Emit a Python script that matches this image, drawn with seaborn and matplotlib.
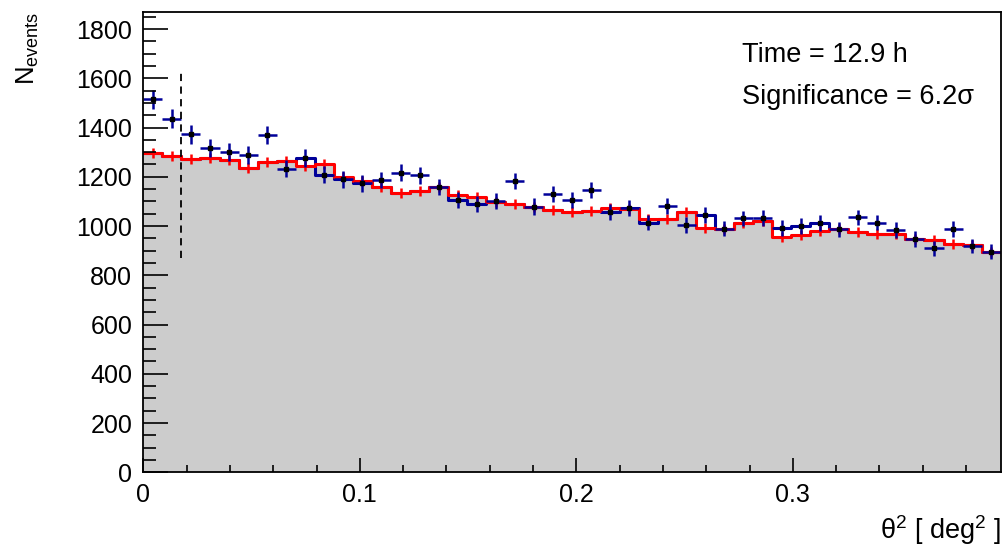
import numpy as np
import pandas as pd
import matplotlib
matplotlib.use("Agg")
import matplotlib.pyplot as plt
import seaborn as sns

# ---------------- data ----------------
bin_width = 0.0088
n_bins = 45
theta2_cut = 0.0176

on_counts = [1515, 1436, 1372, 1316, 1300, 1290, 1371, 1233, 1276, 1208,
             1190, 1174, 1187, 1217, 1206, 1159, 1106, 1090, 1103, 1183,
             1079, 1130, 1106, 1146, 1058, 1072, 1014, 1081, 1004, 1044,
             989, 1031, 1034, 993, 1000, 1011, 987, 1035, 1014, 984,
             947, 910, 988, 919, 896]
on_err = [39, 38, 37, 36, 36, 36, 37, 35, 36, 35,
          34, 34, 34, 35, 35, 34, 33, 33, 33, 34,
          33, 34, 33, 34, 33, 33, 32, 33, 32, 32,
          31, 32, 32, 32, 32, 32, 31, 32, 32, 31,
          31, 30, 31, 30, 30]

off_red = [1298, 1284, 1271, 1278, 1268, 1236, 1261, 1265, 1244, 1252,
           1200, 1184, 1157, 1133, 1144, 1157, 1126, 1119, 1096, 1090,
           1079, 1065, 1056, 1062, 1072, 1068, 1027, 1027, 1058, 993,
           987, 1011, 1022, 957, 964, 980, 987, 975, 966, 966,
           947, 943, 926, 923, 896]
off_red_err = [20] * n_bins

blue_step = [1298, 1284, 1271, 1278, 1268, 1236, 1261, 1265, 1276, 1208,
             1190, 1174, 1157, 1133, 1144, 1157, 1106, 1090, 1096, 1090,
             1079, 1065, 1056, 1062, 1058, 1072, 1011, 1027, 1058, 1044,
             987, 1011, 1022, 993, 1000, 1011, 987, 975, 966, 966,
             947, 943, 926, 923, 896]

cut_line_range = [870, 1630]
time_text = "Time = 12.9 h"
signif_text = "Significance = 6.2σ"

# ---------------- style ----------------
sns.set_theme(style="ticks")
plt.rcParams['font.family'] = ['Liberation Sans', 'DejaVu Sans']
plt.rcParams['mathtext.fontset'] = 'custom'
plt.rcParams['mathtext.rm'] = 'Liberation Sans'
plt.rcParams['mathtext.it'] = 'Liberation Sans:italic'
plt.rcParams['mathtext.bf'] = 'Liberation Sans:bold'

W, H = 1007, 550
fig = plt.figure(figsize=(W / 100, H / 100), dpi=100)
x0, x1, yb, yt = 143.3, 1000.7, 472.3, 12
ax = fig.add_axes([x0 / W, 1 - yb / H, (x1 - x0) / W, (yb - yt) / H])

edges = list(np.arange(n_bins + 1) * bin_width)
centers = [(edges[i] + edges[i + 1]) / 2 for i in range(n_bins)]

df = pd.DataFrame({"theta2": centers, "on": on_counts, "off": off_red,
                   "blue": blue_step})

gray_c = "#cccccc"
blue_c = "#000099"
red_c = "#ff0000"

sns.histplot(data=df, x="theta2", weights="off", bins=edges, element="step",
             fill=True, color=gray_c, alpha=1, linewidth=0, ax=ax)
sns.histplot(data=df, x="theta2", weights="blue", bins=edges, element="step",
             fill=False, color=blue_c, linewidth=2.2, ax=ax)
sns.histplot(data=df, x="theta2", weights="off", bins=edges, element="step",
             fill=False, color=red_c, linewidth=2.2, ax=ax)
ax.errorbar(centers, off_red, yerr=off_red_err, fmt="none", ecolor=red_c,
            elinewidth=1.8, capsize=0, zorder=4)
ax.errorbar(centers, on_counts, yerr=on_err, xerr=bin_width / 2, fmt="s",
            color="black", markersize=2.6, ecolor=blue_c, elinewidth=1.8,
            capsize=0, zorder=5)
ax.vlines(theta2_cut, cut_line_range[0], cut_line_range[1], colors="black",
          linestyles=(0, (4, 3)), linewidth=1.3, zorder=6)

ax.set_xlim(0, n_bins * bin_width)
ax.set_ylim(0, (yb - yt) / 0.24625)
ax.set_ylabel("")
ax.set_xlabel("")

ax.set_xticks([0, 0.1, 0.2, 0.3])
ax.set_xticklabels(["0", "0.1", "0.2", "0.3"])
ax.set_xticks(np.arange(0, 0.396, 0.02), minor=True)
ax.set_yticks(np.arange(0, 1801, 200))
ax.set_yticks(np.arange(0, 1851, 50), minor=True)

ax.set_axisbelow(False)
ax.xaxis.set_zorder(20)
ax.yaxis.set_zorder(20)
for s in ax.spines.values():
    s.set_visible(True)
    s.set_linewidth(1.3)
    s.set_color("black")
    s.set_zorder(21)

ax.tick_params(axis="both", which="both", direction="in", colors="black",
               labelcolor="black", labelsize=18, width=1.2, top=False,
               right=False)
ax.tick_params(axis="y", which="major", length=18, pad=8)
ax.tick_params(axis="y", which="minor", length=9)
ax.tick_params(axis="x", which="major", length=10, pad=8)
ax.tick_params(axis="x", which="minor", length=5)

fig.text(742 / W, 1 - 55 / H, time_text, fontsize=19.5, color="black",
         ha="left", va="center")
fig.text(742 / W, 1 - 97 / H, signif_text, fontsize=19.5, color="black",
         ha="left", va="center")
fig.text(28 / W, 1 - 12 / H, r"N$_{\rm events}$", fontsize=18.5,
         color="black", rotation=90, ha="center", va="top")
fig.text(x1 / W, 1 - 530 / H, r"θ$^{2}$ [ deg$^{2}$ ]", fontsize=19.5,
         color="black", ha="right", va="center")

fig.savefig("out.png", dpi=100)
